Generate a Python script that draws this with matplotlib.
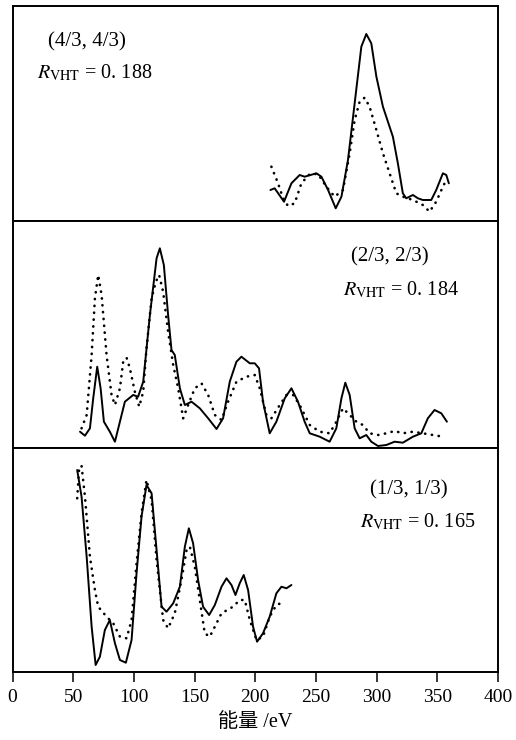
import matplotlib
matplotlib.use("Agg")
import matplotlib.pyplot as plt

plt.rcParams['mathtext.fontset'] = 'stix'

# ---------------- data (energy in eV, intensity in arbitrary units) ----------------
# Panel (4/3, 4/3)
e1_calc = [212.5, 216, 223.7, 229.8, 236.6, 240.7, 250.4, 254.5, 260, 266.3, 271, 276.4, 281.9,
           287.4, 291.5, 295.6, 299.8, 305.2, 313.4, 317.5, 321.6, 324.4, 329.9, 334, 338.1, 345,
           349.1, 354.6, 357.4, 359.5]
i1_calc = [31, 32.7, 19.3, 37.7, 46, 44.3, 47.7, 44.3, 31, 12.7, 24.3, 61, 117.7, 174.3, 187,
           177.7, 144.3, 114.3, 84.3, 57.7, 27.7, 22.7, 26, 22.7, 21, 21, 31, 47.7, 46, 37.7]
e1_exp = [213.3, 218.8, 222.9, 227, 232.5, 238, 244.9, 251.7, 258.6, 265.4, 272.3, 277.8, 281.9,
          286, 290.1, 294.2, 299.8, 305.2, 310.7, 316.2, 321.6, 329.9, 338.1, 343.6, 349.1, 354.6,
          357.4]
i1_exp = [54.3, 37.7, 22.7, 15, 17.7, 37.7, 47, 47, 34.3, 24.3, 31, 67.7, 101, 119.3, 123.3,
          114.3, 91, 67.7, 47.7, 27.7, 24.3, 21, 16, 9.3, 19.3, 34.3, 41]

# Panel (2/3, 2/3)
e2_calc = [55.6, 59.7, 63.8, 66.5, 69.8, 72.6, 75.3, 80.2, 84.4, 88.5, 92.6, 99.4, 103.5, 107.7,
           113.2, 118.7, 121.4, 124.7, 128.2, 131, 133.7, 137.9, 142, 147.5, 154.3, 161.2, 168.1,
           173.5, 179, 184.5, 188.6, 195.5, 199.6, 203.1, 206.4, 211.9, 217.4, 224.3, 229.8, 235.2,
           240.7, 244.9, 253.1, 261.3, 266.8, 271, 274.2, 277.8, 281.9, 286, 291.5, 295.6, 301.1,
           308, 314.8, 321.6, 329.9, 336.8, 342.2, 347.7, 353.3, 357.9]
i2_calc = [16.3, 12.3, 19.7, 49.7, 81.3, 59.7, 26.3, 16.3, 6.3, 26.3, 46.3, 53, 51.3, 66.3, 133,
           189.7, 199.7, 183, 133, 98, 93, 59.7, 43, 46.3, 39.7, 29.7, 19, 29.7, 66.3, 86.3, 91.3,
           84.7, 84.7, 79.7, 46.3, 14.7, 26.3, 49.7, 59.7, 46.3, 26.3, 14.7, 11.3, 6.3, 19.7, 49.7,
           65.3, 53, 19.7, 9.7, 13, 6.3, 2, 3, 6.3, 5.3, 11.3, 14.7, 29.7, 38, 34.7, 26.3]
e2_exp = [56.9, 61.1, 65.2, 67.9, 70.6, 73.4, 77.5, 81.6, 84.4, 88.5, 91.2, 94, 96.7, 100.8, 104.4,
          107.7, 110.4, 114.6, 118.1, 120.8, 124.1, 128.2, 132.4, 136.5, 140.6, 144.7, 150.2,
          155.7, 161.2, 166.7, 172.2, 177.6, 184.5, 192.7, 199.6, 203.7, 209.2, 213.3, 220.2,
          225.7, 231.2, 236.6, 244.9, 253.1, 261.3, 266.8, 272.3, 277.8, 283.3, 288.7, 294.2,
          301.1, 308, 314.8, 321.6, 329.9, 338.1, 346.3, 354.6]
i2_exp = [19.7, 33, 93, 149.7, 173, 153, 93, 53, 43, 59.7, 86.3, 90.3, 79.7, 56.3, 41.3, 56.3,
          99.7, 149.7, 166.3, 173, 156.3, 116.3, 83, 59.7, 29.7, 43, 59.7, 64.7, 53, 33, 28, 46.3,
          66.3, 71.3, 73, 59.7, 33, 29.7, 43, 53, 53, 43, 23, 16.3, 14.7, 26.3, 39.7, 33, 26.3, 23,
          14.7, 13, 14.7, 17, 14.7, 16.3, 14.7, 13, 11.3]

# Panel (1/3, 1/3)
e3_calc = [53.3, 56.9, 61.1, 65.2, 68.5, 72, 76.1, 80.2, 84.4, 88.5, 93.4, 98.1, 102.2, 106.3,
           110.4, 114.6, 118.7, 122.8, 126.9, 132.4, 137.9, 142, 145.3, 148.8, 152.9, 157, 162,
           166.7, 172.2, 176.3, 180.4, 183.7, 187.2, 190.5, 194.1, 198.2, 201.5, 206.4, 211.9,
           217.4, 221.6, 225.7, 229.8]
i3_calc = [202, 175.3, 115.3, 45.3, 7, 15.3, 42, 52, 28.7, 12, 9.3, 32, 98.7, 155.3, 187, 178.7,
           122, 65.3, 60.3, 68.7, 85.3, 125.3, 143.7, 128.7, 92, 65.3, 57, 67, 85.3, 93.7, 87, 77,
           88.7, 97, 82, 45.3, 30.3, 38.7, 55.3, 78.7, 85.3, 83.7, 87]
e3_exp = [53.3, 55, 56.9, 59.7, 63.8, 67.9, 70.6, 77.5, 83, 88.5, 94, 98.1, 102.2, 106.3, 110.4,
          114.6, 118.7, 124.1, 128.2, 133.7, 139.2, 143.4, 146.1, 150.2, 154.3, 158.4, 162.5,
          166.7, 172.2, 181.7, 187.2, 191.4, 195.5, 201, 206.4, 211.9, 217.4, 224.3]
i3_exp = [173.7, 205.3, 206, 175.3, 115.3, 82, 65.3, 55.3, 48.7, 35.3, 33.7, 52, 108.7, 158.7,
          192, 172, 112, 52, 43.7, 58.7, 92, 122, 125.3, 105.3, 72, 38.7, 35.3, 45.3, 58.7, 65.3,
          72, 72, 52, 32, 35.3, 55.3, 67, 70.3]

labels_k = ["(4/3, 4/3)", "(2/3, 2/3)", "(1/3, 1/3)"]
labels_r = ["0. 188", "0. 184", "0. 165"]
xticks = [0, 50, 100, 150, 200, 250, 300, 350, 400]

# ---------------- layout ----------------
W, H = 516, 740
fig = plt.figure(figsize=(W / 100, H / 100), dpi=100)
fig.patch.set_facecolor('white')

x_left, x_right = 12.5, 498
panels_px = [(6, 221), (221, 448), (448, 672)]
series = [(e1_calc, i1_calc, e1_exp, i1_exp),
          (e2_calc, i2_calc, e2_exp, i2_exp),
          (e3_calc, i3_calc, e3_exp, i3_exp)]
text_pos = [((48, 42), (37, 73)), ((351, 257), (343, 290)), ((370, 490), (360, 522))]

serif = ['Liberation Serif', 'DejaVu Serif']
axes = []
for k, ((ytop, ybot), (ec, ic, ee, ie)) in enumerate(zip(panels_px, series)):
    ax = fig.add_axes([x_left / W, 1 - ybot / H, (x_right - x_left) / W, (ybot - ytop) / H])
    ax.plot(ec, ic, color='black', lw=1.4, solid_joinstyle='round', solid_capstyle='round')
    ax.plot(ee, ie, color='black', lw=1.9, linestyle=(0, (0.1, 2.5)),
            dash_capstyle='round')
    ax.set_xlim(0, 400)
    ax.set_ylim(0, ybot - ytop)
    for s in ax.spines.values():
        s.set_linewidth(1.4)
    ax.set_yticks([])
    if k < 2:
        ax.set_xticks([])
    else:
        ax.set_xticks(xticks)
        ax.set_xticklabels([str(t) for t in xticks], fontfamily=serif, fontsize=14)
        ax.tick_params(axis='x', direction='out', length=7, width=1.1, pad=5)
        ax.set_xlabel("能量 /eV", fontfamily=['Liberation Serif', 'Noto Sans CJK SC'],
                      fontsize=14.5, labelpad=5)
    (kx, ky), (rx, ry) = text_pos[k]
    fig.text(kx / W, 1 - ky / H, labels_k[k], fontfamily=serif, fontsize=15,
             ha='left', va='center')
    fig.text(rx / W, 1 - ry / H, r"$R_{\mathrm{VHT}}$ = " + labels_r[k], fontfamily=serif,
             fontsize=14.5, ha='left', va='center')
    axes.append(ax)

fig.savefig("out.png", dpi=100, facecolor='white')
